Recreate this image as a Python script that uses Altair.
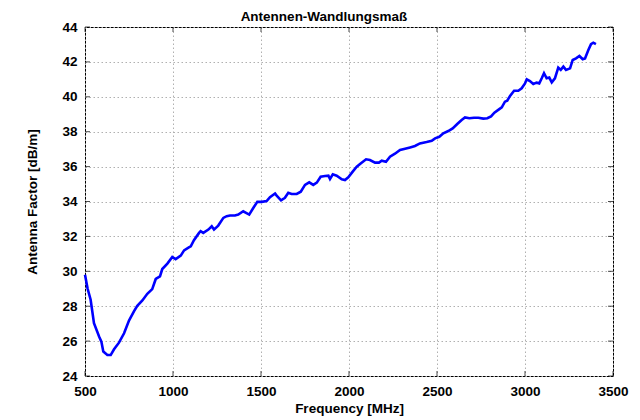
import altair as alt
import pandas as pd

freq = [500, 515, 532, 551, 580, 593, 604, 627, 646, 665, 693, 722, 750, 778, 797, 826, 854, 882, 902, 926,
        939, 968, 996, 1015, 1044, 1063, 1090, 1101, 1119, 1148, 1157, 1172, 1201, 1220, 1233, 1257, 1286, 1305,
        1324, 1352, 1371, 1399, 1415, 1433, 1456, 1479, 1504, 1532, 1551, 1580, 1589, 1614, 1636, 1655, 1674,
        1703, 1726, 1750, 1774, 1797, 1817, 1839, 1864, 1883, 1892, 1908, 1930, 1959, 1977, 1996, 2021, 2044,
        2068, 2097, 2119, 2148, 2170, 2186, 2210, 2233, 2261, 2290, 2313, 2347, 2375, 2403, 2441, 2470, 2489,
        2513, 2536, 2564, 2589, 2615, 2640, 2659, 2684, 2710, 2735, 2763, 2786, 2807, 2826, 2852, 2868, 2886,
        2899, 2915, 2938, 2962, 2981, 3000, 3010, 3028, 3047, 3066, 3081, 3095, 3108, 3123, 3138, 3152, 3170,
        3189, 3203, 3218, 3233, 3256, 3271, 3290, 3309, 3328, 3341, 3360, 3375, 3388, 3403]
factor = [29.8, 29.0, 28.37, 27.03, 26.26, 25.97, 25.4, 25.2, 25.2, 25.53, 25.91, 26.45, 27.18, 27.7, 28.02,
          28.33, 28.71, 28.98, 29.56, 29.71, 30.13, 30.44, 30.82, 30.7, 30.9, 31.2, 31.37, 31.43, 31.78, 32.2,
          32.3, 32.2, 32.39, 32.58, 32.39, 32.62, 33.06, 33.16, 33.2, 33.2, 33.25, 33.44, 33.35, 33.25, 33.63,
          33.98, 33.98, 34.02, 34.25, 34.46, 34.34, 34.07, 34.21, 34.5, 34.43, 34.43, 34.56, 34.95, 35.1, 34.95,
          35.08, 35.42, 35.46, 35.48, 35.29, 35.56, 35.48, 35.27, 35.23, 35.39, 35.71, 35.99, 36.19, 36.42,
          36.38, 36.23, 36.23, 36.34, 36.28, 36.57, 36.74, 36.95, 37.01, 37.1, 37.18, 37.33, 37.41, 37.48,
          37.62, 37.71, 37.91, 38.04, 38.19, 38.44, 38.67, 38.82, 38.77, 38.8, 38.8, 38.75, 38.77, 38.88,
          39.09, 39.28, 39.4, 39.72, 39.78, 40.05, 40.35, 40.35, 40.49, 40.77, 41.0, 40.9, 40.73, 40.81,
          40.77, 41.06, 41.35, 41.06, 41.1, 40.83, 41.06, 41.67, 41.54, 41.73, 41.54, 41.63, 42.11, 42.2,
          42.34, 42.15, 42.2, 42.68, 43.02, 43.1, 43.02]

x_ticks = [500, 1000, 1500, 2000, 2500, 3000, 3500]
y_ticks = [24, 26, 28, 30, 32, 34, 36, 38, 40, 42, 44]

W, H = 528, 349
FONT = "Liberation Sans"
FS = 13.5

df = pd.DataFrame({"freq": freq, "factor": factor})
xt = pd.DataFrame({"t": x_ticks})
yt = pd.DataFrame({"t": y_ticks})

xscale = alt.Scale(domain=[500, 3500], nice=False, zero=False)
yscale = alt.Scale(domain=[24, 44], nice=False, zero=False)
xaxis = alt.Axis(values=x_ticks, title="Frequency [MHz]", format="d", labelFlush=False, labelOverlap=False)
yaxis = alt.Axis(values=y_ticks, title="Antenna Factor [dB/m]", format="d", labelFlush=False, labelOverlap=False)

line = alt.Chart(df).mark_line(color="#0000ff", strokeWidth=2.6).encode(
    x=alt.X("freq:Q", scale=xscale, axis=xaxis),
    y=alt.Y("factor:Q", scale=yscale, axis=yaxis),
)

tick_bottom = alt.Chart(xt).mark_tick(color="black", size=5, thickness=1).encode(
    x=alt.X("t:Q", scale=xscale, axis=xaxis), y=alt.value(H - 2.5))
tick_top = alt.Chart(xt).mark_tick(color="black", size=5, thickness=1).encode(
    x=alt.X("t:Q", scale=xscale, axis=xaxis), y=alt.value(2.5))
tick_left = alt.Chart(yt).mark_tick(color="black", size=5, thickness=1).encode(
    y=alt.Y("t:Q", scale=yscale, axis=yaxis), x=alt.value(2.5))
tick_right = alt.Chart(yt).mark_tick(color="black", size=5, thickness=1).encode(
    y=alt.Y("t:Q", scale=yscale, axis=yaxis), x=alt.value(W - 2.5))

chart = alt.layer(line, tick_bottom, tick_top, tick_left, tick_right).properties(
    width=W, height=H,
    title=alt.TitleParams("Antennen-Wandlungsmaß", font=FONT, fontSize=FS, fontWeight="bold",
                          color="black", offset=0, frame="group", anchor="middle", dx=-25, dy=3),
    autosize=alt.AutoSizeParams(type="none"),
    padding={"left": 77, "top": 19, "right": 19, "bottom": 44},
).configure_view(
    stroke="black", strokeWidth=1
).configure_axis(
    grid=True, gridColor="#b0b0b0", gridDash=[1.5, 2.5], gridWidth=1,
    domain=False, ticks=False,
    labelFont=FONT, labelFontSize=FS, labelFontWeight="bold", labelColor="black", labelPadding=8,
    titleFont=FONT, titleFontSize=FS, titleFontWeight="bold", titleColor="black",
).configure_axisX(titlePadding=4).configure_axisY(titlePadding=22)

chart.save("out.html", embed_options={"renderer": "svg", "actions": False})
